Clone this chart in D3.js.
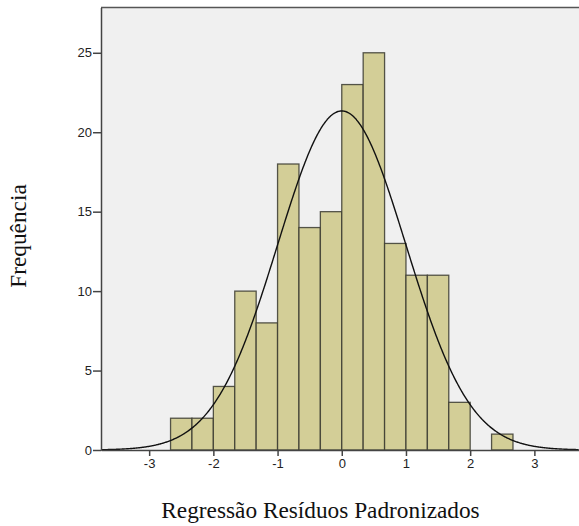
<!DOCTYPE html>
<html>
<head>
<meta charset="utf-8">
<script src="https://cdn.jsdelivr.net/npm/d3@7"></script>
<style>
  html, body { margin: 0; padding: 0; background: #ffffff; }
  svg { display: block; }
</style>
</head>
<body>
<script>
// Histogram of standardized regression residuals with fitted normal curve
const binStart = -8 / 3;
const binWidth = 1 / 3;
const counts = [2, 2, 4, 10, 8, 18, 14, 15, 23, 25, 13, 11, 11, 3, 0, 1];
const xTicks = [-3, -2, -1, 0, 1, 2, 3];
const yTicks = [0, 5, 10, 15, 20, 25];
const fitMean = 0;
const fitSd = 0.997;
const nObs = 160;

const W = 579, H = 526;
const plot = { left: 101, top: 7.5, right: 579, bottom: 450 };

const svg = d3.select("body").append("svg")
  .attr("width", W).attr("height", H);

const x = d3.scaleLinear().domain([-3.75, 3.695]).range([plot.left, plot.right]);
const y = d3.scaleLinear().domain([0, 27.85]).range([plot.bottom, plot.top]);

// plot background
svg.append("rect")
  .attr("x", plot.left).attr("y", plot.top)
  .attr("width", plot.right - plot.left).attr("height", plot.bottom - plot.top)
  .attr("fill", "#f0f0f0");

// top frame line
svg.append("line")
  .attr("x1", plot.left).attr("x2", plot.right)
  .attr("y1", plot.top).attr("y2", plot.top)
  .attr("stroke", "#555").attr("stroke-width", 1.5);

const bins = counts.map((c, i) => ({
  x0: binStart + i * binWidth,
  x1: binStart + (i + 1) * binWidth,
  count: c
})).filter(b => b.count > 0);

svg.append("g").selectAll("rect")
  .data(bins)
  .join("rect")
  .attr("x", d => x(d.x0))
  .attr("y", d => y(d.count))
  .attr("width", d => x(d.x1) - x(d.x0))
  .attr("height", d => y(0) - y(d.count))
  .attr("fill", "#d3ce97")
  .attr("stroke", "#3a3a30")
  .attr("stroke-opacity", 0.85)
  .attr("stroke-width", 1.3);

// fitted normal curve scaled to counts
const pdf = v => Math.exp(-0.5 * ((v - fitMean) / fitSd) ** 2) / (fitSd * Math.sqrt(2 * Math.PI));
const curvePts = d3.range(-3.75, 3.7, 0.01).map(v => [v, nObs * binWidth * pdf(v)]);
svg.append("path")
  .datum(curvePts)
  .attr("fill", "none")
  .attr("stroke", "#111")
  .attr("stroke-width", 1.4)
  .attr("d", d3.line().x(d => x(d[0])).y(d => y(d[1])).curve(d3.curveBasis));

// axes (plain hyphen for negative labels)
const fmt = d => String(d);
const xAxis = svg.append("g")
  .attr("transform", `translate(0,${plot.bottom})`)
  .call(d3.axisBottom(x).tickValues(xTicks).tickSize(6).tickPadding(3).tickSizeOuter(0).tickFormat(fmt));
const yAxis = svg.append("g")
  .attr("transform", `translate(${plot.left},0)`)
  .call(d3.axisLeft(y).tickValues(yTicks).tickSize(8).tickPadding(1).tickSizeOuter(0).tickFormat(fmt));

[xAxis, yAxis].forEach(g => {
  g.select(".domain").attr("stroke", "#444").attr("stroke-width", 1.5);
  g.selectAll(".tick line").attr("stroke", "#444").attr("stroke-width", 1.5);
  g.selectAll(".tick text")
    .attr("font-family", "Liberation Sans, Arial, sans-serif")
    .attr("font-size", 13)
    .attr("fill", "#222");
});

// axis titles
svg.append("text")
  .attr("x", 320.5).attr("y", 518)
  .attr("text-anchor", "middle")
  .attr("font-family", "Liberation Serif, Times New Roman, serif")
  .attr("font-size", 23.3)
  .attr("fill", "#111")
  .text("Regressão Resíduos Padronizados");

svg.append("text")
  .attr("transform", "translate(26,236) rotate(-90)")
  .attr("text-anchor", "middle")
  .attr("font-family", "Liberation Serif, Times New Roman, serif")
  .attr("font-size", 23.3)
  .attr("fill", "#111")
  .text("Frequência");
</script>
</body>
</html>
